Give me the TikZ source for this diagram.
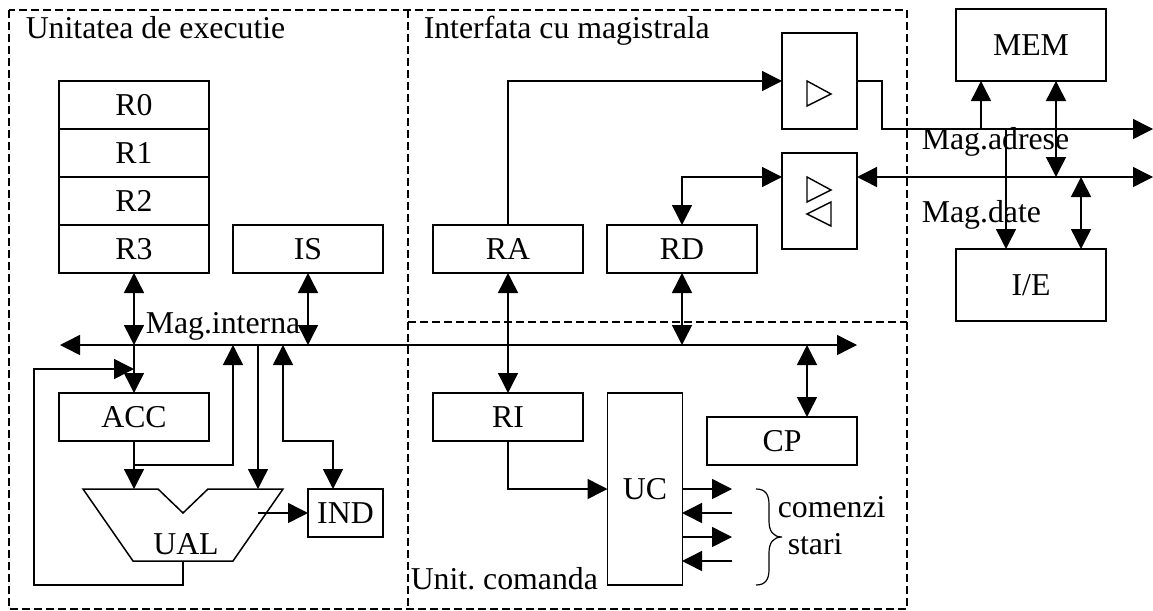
\documentclass[tikz,border=0pt]{standalone}
\usepackage{fontspec}
\setmainfont{Liberation Serif}
\usetikzlibrary{arrows.meta}
\tikzset{
  lbl/.style={anchor=base west,inner sep=0pt,font=\fontsize{31.8}{33}\selectfont},
  bloc/.style={draw,minimum width=150pt,minimum height=48pt,inner sep=0pt,outer sep=0pt,
    font=\fontsize{31.8}{33}\selectfont},
  zona/.style={draw,dash pattern=on 8pt off 4pt},
  tri/.style={draw,line width=1.4pt}
}
\frenchspacing
\begin{document}
\begin{tikzpicture}[x=1pt,y=-1pt,line width=1.5pt,>={Triangle[length=20pt,width=20pt]}]
  \useasboundingbox (0,0) rectangle (1153,610);
  % zone
  \draw[zona] (9,10) rectangle (907,609);
  \draw[zona] (408,10)--(408,609);
  \draw[zona] (408,322)--(907,322);
  \node[lbl](Lexec) at(25,38) {Unitatea de executie};
  \node[lbl](Lintf) at(423,38) {Interfata cu magistrala};
  \node[lbl](Lcmd) at(410,589) {Unit. comanda};
  % registre
  \node[bloc](R0) at(134,105) {R0};
  \node[bloc](R1) at(134,153) {R1};
  \node[bloc](R2) at(134,201) {R2};
  \node[bloc](R3) at(134,249) {R3};
  \node[bloc](IS) at(308,249) {IS};
  \node[bloc](RA) at(508,249) {RA};
  \node[bloc](RD) at(682,249) {RD};
  \node[bloc](ACC) at(134,417) {ACC};
  \node[bloc](RI) at(508,417) {RI};
  \node[bloc](CP) at(782,441) {CP};
  \node[bloc,minimum width=75pt,minimum height=192pt](UC) at(645,489) {UC};
  \node[bloc,minimum width=75pt](IND) at(345.5,513) {IND};
  \node[bloc,minimum width=75pt,minimum height=96pt](BA) at(819.5,81) {};
  \node[bloc,minimum width=75pt,minimum height=96pt](BD) at(819.5,201) {};
  \node[bloc,minimum height=72pt](MEM) at(1031,45) {MEM};
  \node[bloc,minimum height=72pt](IE) at(1031,285) {I/E};
  % UAL
  \draw (83,489)--(158,489)--(183,513)--(208,489)--(283,489)--(233,561)--(133,561)--cycle;
  \node[font=\fontsize{31.8}{33}\selectfont](UAL) at(186,544) {UAL};
  % triunghiuri
  \draw[tri] (807,81)--(807,106)--(831,94)--cycle;
  \draw[tri] (807,177)--(807,202)--(831,190)--cycle;
  \draw[tri] (831,202)--(831,226)--(807,214)--cycle;
  % magistrale
  \coordinate (BIl) at(60,345);
  \coordinate (BIr) at(857,345);
  \coordinate (BAl) at(882,129);
  \coordinate (BAr) at(1153,129);
  \coordinate (BDr) at(1153,177);
  \node[lbl](Lint) at(145,333) {Mag.interna};
  \node[lbl](Ladr) at(921,149) {Mag.adrese};
  \node[lbl](Ldat) at(921,222) {Mag.date};
  % puncte de legatura
  \coordinate (Ta) at(134,345);
  \coordinate (Tb) at(308,345);
  \coordinate (Tc) at(233,345);
  \coordinate (Td) at(258,345);
  \coordinate (Te) at(283,345);
  \coordinate (Tf) at(682,345);
  \coordinate (Tg) at(807,345);
  \coordinate (Tcp) at(807,417);
  \coordinate (Uin) at(134,489);
  \coordinate (Uin2) at(258,489);
  \coordinate (Uout) at(258,513);
  \coordinate (Ia) at(283,441);
  \coordinate (Ib) at(333,441);
  \coordinate (Iin) at(333,489);
  \coordinate (Uj) at(134,465);
  \coordinate (Ub) at(183,561);
  \coordinate (Fa) at(183,585);
  \coordinate (Fb) at(34,585);
  \coordinate (Fc) at(34,369);
  \coordinate (Fd) at(134,369);
  \coordinate (Ma) at(981,129);
  \coordinate (Mb) at(981,81);
  \coordinate (Mc) at(1056,81);
  \coordinate (Md) at(1056,177);
  \coordinate (Ea) at(1006,129);
  \coordinate (Eb) at(1006,249);
  \coordinate (Ec) at(1081,177);
  \coordinate (Ed) at(1081,249);
  \coordinate (Bd) at(857,177);
  \coordinate (Rc) at(682,177);

  \draw[<->](BIl)--(BIr);
  \draw[<->](Bd)--(BDr);
  \foreach \x/\y in{R3.south/Ta, IS.south/Tb, RA.south/RI.north, RD.south/Tf,
    Tg/Tcp, Mc/Md, Ec/Ed%
  }{
    \draw[<->](\x)--(\y);
  }
  \foreach \x/\y in{Ta/ACC.north, ACC.south/Uin, Td/Uin2, Uout/IND.west,
    Ma/Mb, Ea/Eb%
  }{
    \draw[->](\x)--(\y);
  }
  \draw[->](Uj)-|(Tc);
  \draw[<->](Te)--(Ia)--(Ib)--(Iin);
  \draw[->](Ub)--(Fa)--(Fb)--(Fc)--(Fd);
  \draw[->](RA.north)|-(BA.west);
  \draw[->](BA.east)-|(BAl)--(BAr);
  \draw[<->](RD.north)|-(BD.west|-Rc);
  \draw[->](RI.south)|-(UC.west);
  % comenzi si stari
  \coordinate (Ca) at(682,489);
  \coordinate (Cb) at(732,489);
  \coordinate (Cc) at(682,513);
  \coordinate (Cd) at(732,513);
  \coordinate (Ce) at(682,537);
  \coordinate (Cf) at(732,537);
  \coordinate (Cg) at(682,561);
  \coordinate (Ch) at(732,561);
  \foreach \x/\y in{Ca/Cb, Cd/Cc, Ce/Cf, Ch/Cg}{
    \draw[->](\x)--(\y);
  }
  \draw[line width=1.2pt] (756,489) .. controls (766,489) and (769,495) .. (769,505) -- (769,521)
    .. controls (769,531) and (773,537) .. (782,537) .. controls (773,537) and (769,543) .. (769,553)
    -- (769,569) .. controls (769,579) and (766,585) .. (756,585);
  \node[lbl](Lcom) at(777,517) {comenzi};
  \node[lbl](Lsta) at(787,554) {stari};
\end{tikzpicture}
\end{document}
